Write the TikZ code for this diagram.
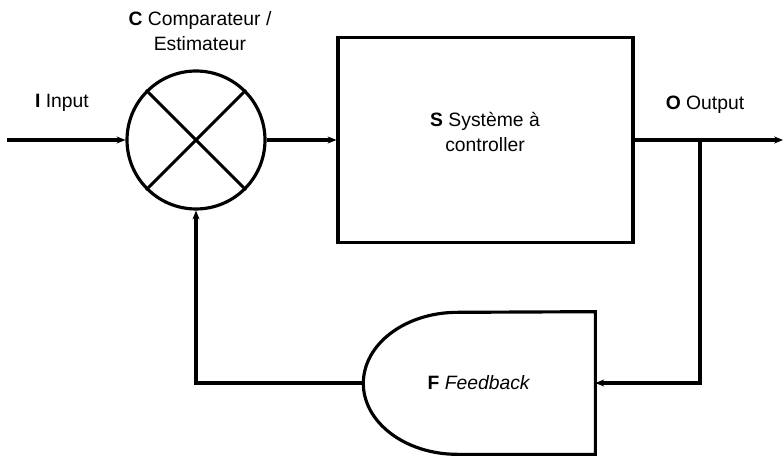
\documentclass[tikz,border=0pt]{standalone}
\usepackage{fontspec}
\setmainfont{Liberation Sans}
\usepackage{tikz}
\usetikzlibrary{positioning,arrows.meta,calc}

\begin{document}
\begin{tikzpicture}[
  x=0.02cm, y=0.02cm,
  font=\fontsize{11}{14}\selectfont,
  compbox/.style={draw, circle, line width=1.8pt, minimum size=2.76cm, inner sep=0pt},
  sysbox/.style={draw, line width=1.8pt, minimum width=5.9cm, minimum height=4.1cm, align=center},
  fbbox/.style={minimum width=4.64cm, minimum height=2.84cm, inner sep=0pt},
  lbl/.style={align=center},
  arr/.style={-{Stealth[length=5pt,width=4pt]}, line width=1.8pt},
  ln/.style={line width=1.8pt},
  ]
  \useasboundingbox (0,0) rectangle (783,459);

  % Comparator
  \node[compbox] (C) at (196,319) {};
  \draw[ln] (C.north west) -- (C.south east);
  \draw[ln] (C.south west) -- (C.north east);
  \node[lbl] (Clbl) at (200,428) {\textbf{C} Comparateur /\\Estimateur};

  % System
  \node[sysbox] (S) at (485.5,319) {};
  \node[lbl] (Slbl) at (485,327) {\textbf{S} Système à\\controller};

  % Feedback
  \node[fbbox] (F) at (479,76) {\textbf{F} \textit{Feedback}};
  \draw[ln] (F.north east) -- (F.south east) -- ($(F.south east)+(-138,0)$)
    arc[start angle=270, end angle=90, x radius=94, y radius=71] -- cycle;

  % Input / output ends
  \coordinate (in) at (7,319);
  \coordinate (out) at (783,319);
  \coordinate (br) at (700,319);
  \node[lbl] (Ilbl) at (62,356) {\textbf{I} Input};
  \node[lbl] (Olbl) at (705,354) {\textbf{O} Output};

  % Arrows
  \draw[arr] (in) -- (C.west);
  \draw[arr] (C.east) -- (S.west);
  \draw[arr] (S.east) -- (out);
  \draw[arr] (br) |- (F.east);
  \draw[arr] (F.west) -| (C.south);
\end{tikzpicture}
\end{document}
